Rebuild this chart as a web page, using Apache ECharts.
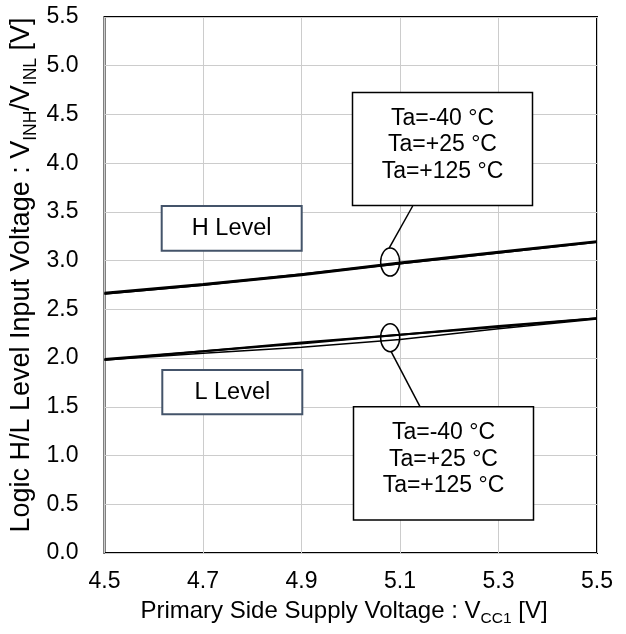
<!DOCTYPE html>
<html>
<head>
<meta charset="utf-8">
<script src="https://cdn.jsdelivr.net/npm/echarts@6/dist/echarts.min.js"></script>
<style>
html,body{margin:0;padding:0;background:#fff;}
#chart{width:626px;height:634px;}
</style>
</head>
<body>
<div id="chart"></div>
<script>
// ---- data ----
const vcc = [4.5, 4.7, 4.9, 5.1, 5.3, 5.5];
const hLevelM40 = [2.66, 2.75, 2.86, 2.97, 3.08, 3.19];
const hLevelP25 = [2.67, 2.76, 2.86, 2.98, 3.09, 3.20];
const hLevelP125 = [2.66, 2.75, 2.85, 2.97, 3.08, 3.19];
const lLevelM40 = [1.98, 2.07, 2.15, 2.24, 2.32, 2.41];
const lLevelP25 = [1.99, 2.07, 2.16, 2.24, 2.33, 2.41];
const lLevelP125 = [1.98, 2.05, 2.11, 2.19, 2.30, 2.40];
const xTicks = ['4.5', '4.7', '4.9', '5.1', '5.3', '5.5'];
const tempLabels = ['Ta=-40 °C', 'Ta=+25 °C', 'Ta=+125 °C'];

const X0 = 4.5; // axis origin offset so ticks start at 4.5
const FONT = "'Liberation Sans', Arial, sans-serif";

function pts(ys) { return vcc.map((v, i) => [v - X0, ys[i]]); }

const chart = echarts.init(document.getElementById('chart'), null, {renderer: 'canvas'});

const lineSeries = (name, ys, w) => ({
  name, type: 'line', data: pts(ys), showSymbol: false, symbol: 'none',
  lineStyle: {color: '#000', width: w}, animation: false, silent: true
});

chart.setOption({
  animation: false,
  grid: {left: 104.5, right: 29, top: 17, bottom: 81, show: true,
         borderColor: '#000', borderWidth: 2, backgroundColor: 'transparent'},
  xAxis: {
    type: 'value', min: 0, max: 1, interval: 0.2,
    axisLine: {show: false}, axisTick: {show: false},
    splitLine: {show: true, lineStyle: {color: '#cccccc', width: 1}},
    axisLabel: {color: '#000', fontSize: 23, fontFamily: FONT, margin: 17,
      formatter: (v) => xTicks[Math.round(v / 0.2)] }
  },
  yAxis: {
    type: 'value', min: 0, max: 5.5, interval: 0.5,
    axisLine: {show: false}, axisTick: {show: false},
    splitLine: {show: true, lineStyle: {color: '#cccccc', width: 1}},
    axisLabel: {color: '#000', fontSize: 23, fontFamily: FONT, margin: 26,
      formatter: (v) => v.toFixed(1)}
  },
  series: [
    lineSeries('H -40', hLevelM40, 2),
    lineSeries('H +25', hLevelP25, 2),
    lineSeries('H +125', hLevelP125, 2),
    lineSeries('L -40', lLevelM40, 2),
    lineSeries('L +25', lLevelP25, 2),
    lineSeries('L +125', lLevelP125, 1.5)
  ]
});

// ---- annotations ----
const P = (x, y) => chart.convertToPixel({gridIndex: 0}, [x - X0, y]);
const ellH = P(5.08, 2.985);
const ellL = P(5.08, 2.21);
const rx = 9.5, ry = 14;

const richX = {
  m: {fontSize: 24, fontFamily: FONT, color: '#000', lineHeight: 32},
  s: {fontSize: 15.5, fontFamily: FONT, color: '#000', lineHeight: 15, verticalAlign: 'bottom'}
};
const richY = {
  m: {fontSize: 27, fontFamily: FONT, color: '#000', lineHeight: 36},
  s: {fontSize: 17.5, fontFamily: FONT, color: '#000', lineHeight: 17, verticalAlign: 'bottom'}
};

function box(x, y, w, h, stroke, lw) {
  return {type: 'rect', shape: {x, y, width: w, height: h},
          style: {fill: '#fff', stroke, lineWidth: lw}, z: 10};
}
function txt(x, y, text, fs, lh) {
  return {type: 'text', x, y, z: 11,
          style: {text, fontSize: fs, fontFamily: FONT, fill: '#000',
                  align: 'center', verticalAlign: 'middle', lineHeight: lh || 26.7}};
}

chart.setOption({
  graphic: [
    // leader lines
    {type: 'line', z: 9, shape: {x1: ellH[0] - 1, y1: ellH[1] - ry, x2: 412.7, y2: 206},
     style: {stroke: '#000', lineWidth: 1.5}},
    {type: 'line', z: 9, shape: {x1: ellL[0] + 1, y1: ellL[1] + ry, x2: 420, y2: 406.7},
     style: {stroke: '#000', lineWidth: 1.5}},
    // ellipses
    {type: 'ellipse', z: 9, shape: {cx: ellH[0], cy: ellH[1], rx, ry},
     style: {fill: 'none', stroke: '#000', lineWidth: 1.5}},
    {type: 'ellipse', z: 9, shape: {cx: ellL[0], cy: ellL[1], rx, ry},
     style: {fill: 'none', stroke: '#000', lineWidth: 1.5}},
    // temperature boxes
    box(352.5, 92.5, 180, 113, '#000', 1.5),
    txt(442.5, 145, tempLabels.join('\n'), 23),
    box(353.5, 406.7, 180, 113.3, '#000', 1.5),
    txt(443.5, 459.3, tempLabels.join('\n'), 23),
    // level boxes
    box(161.7, 206, 140, 44.7, '#44546A', 2),
    txt(231.7, 229, 'H Level', 23.5),
    box(162.3, 370, 140, 44.3, '#44546A', 2),
    txt(232.3, 392.5, 'L Level', 23.5),
    // axis titles
    {type: 'text', x: 344, y: 611, z: 11,
     style: {text: '{m|Primary Side Supply Voltage : V}{s|CC1}{m| [V]}', rich: richX,
             align: 'center', verticalAlign: 'middle'}},
    {type: 'text', x: 22, y: 275, rotation: Math.PI / 2, z: 11,
     style: {text: '{m|Logic H/L Level Input Voltage : V}{s|INH}{m|/V}{s|INL}{m| [V]}', rich: richY,
             align: 'center', verticalAlign: 'middle'}}
  ]
});
</script>
</body>
</html>
